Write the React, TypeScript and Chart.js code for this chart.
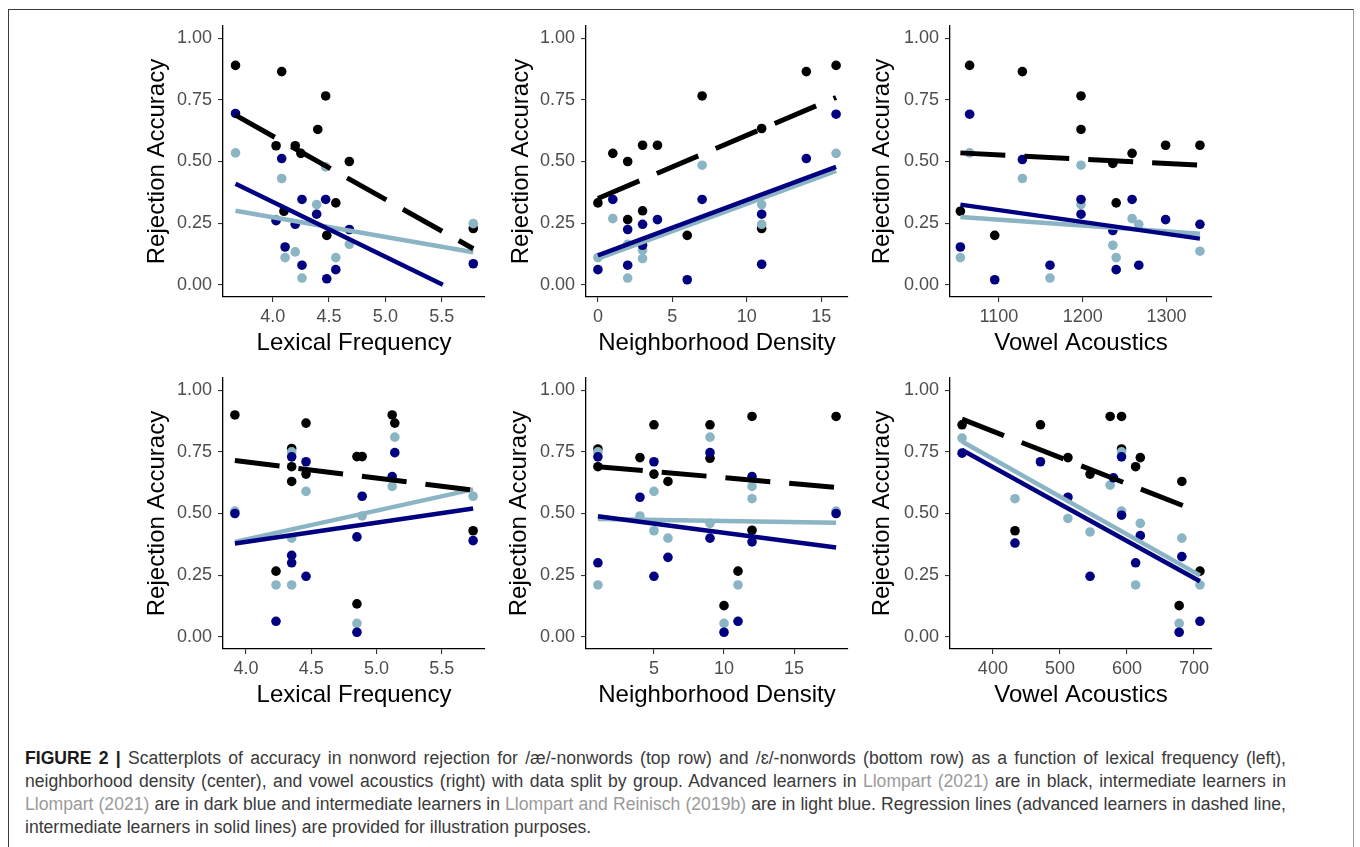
import React, { useEffect, useRef } from "react";
import { Chart, registerables } from "chart.js";

Chart.register(...registerables);

type Pt = [number, number];

// ---------- tick values & labels ----------
const yTickValues = [0, 0.25, 0.5, 0.75, 1];
const yTickLabels = ["0.00", "0.25", "0.50", "0.75", "1.00"];
const freqTickValues = [4.0, 4.5, 5.0, 5.5];
const freqTickLabels = ["4.0", "4.5", "5.0", "5.5"];
const densTopTickValues = [0, 5, 10, 15];
const densTopTickLabels = ["0", "5", "10", "15"];
const densBottomTickValues = [5, 10, 15];
const densBottomTickLabels = ["5", "10", "15"];
const vowelTopTickValues = [1100, 1200, 1300];
const vowelTopTickLabels = ["1100", "1200", "1300"];
const vowelBottomTickValues = [400, 500, 600, 700];
const vowelBottomTickLabels = ["400", "500", "600", "700"];

// ---------- /æ/ nonwords (top row) ----------
// Lexical frequency
const aeFreqAdvanced: Pt[] = [[3.67, 0.89], [4.08, 0.865], [4.47, 0.766], [4.40, 0.63], [4.03, 0.564], [4.20, 0.564], [4.25, 0.533], [4.68, 0.50], [4.56, 0.332], [4.10, 0.298], [4.48, 0.20], [5.78, 0.228]];
const aeFreqIntermediate: Pt[] = [[3.67, 0.695], [4.08, 0.512], [4.26, 0.346], [4.47, 0.346], [4.03, 0.26], [4.20, 0.245], [4.39, 0.286], [4.68, 0.224], [4.11, 0.153], [4.26, 0.079], [4.56, 0.061], [4.48, 0.024], [5.78, 0.085]];
const aeFreqIntermediate2019: Pt[] = [[3.67, 0.535], [4.08, 0.431], [4.47, 0.478], [4.39, 0.325], [4.03, 0.264], [4.20, 0.133], [4.11, 0.11], [4.26, 0.027], [4.56, 0.11], [4.68, 0.164], [5.78, 0.248]];
const aeFreqFitAdvanced: Pt[] = [[3.67, 0.688], [5.78, 0.146]];
const aeFreqFitIntermediate: Pt[] = [[3.67, 0.41], [5.51, 0.0]];
const aeFreqFitIntermediate2019: Pt[] = [[3.67, 0.30], [5.78, 0.132]];

// Neighborhood density
const aeDensAdvanced: Pt[] = [[0, 0.332], [1, 0.533], [2, 0.5], [3, 0.566], [4, 0.566], [7, 0.766], [11, 0.634], [14, 0.865], [16, 0.89], [2, 0.264], [3, 0.3], [6, 0.2], [11, 0.228]];
const aeDensIntermediate: Pt[] = [[1, 0.346], [2, 0.224], [3, 0.245], [4, 0.264], [7, 0.346], [11, 0.286], [14, 0.512], [16, 0.692], [0, 0.061], [2, 0.079], [6, 0.02], [11, 0.083], [3, 0.16]];
const aeDensIntermediate2019: Pt[] = [[1, 0.268], [0, 0.11], [2, 0.164], [2, 0.027], [3, 0.14], [3, 0.106], [7, 0.485], [11, 0.325], [11, 0.245], [16, 0.533]];
const aeDensFitAdvanced: Pt[] = [[0, 0.35], [16, 0.76]];
const aeDensFitIntermediate: Pt[] = [[0, 0.119], [16, 0.478]];
const aeDensFitIntermediate2019: Pt[] = [[0, 0.106], [16, 0.462]];

// Vowel acoustics
const aeVowelAdvanced: Pt[] = [[1054, 0.298], [1065, 0.89], [1095, 0.2], [1128, 0.865], [1198, 0.766], [1198, 0.63], [1236, 0.492], [1240, 0.332], [1259, 0.533], [1299, 0.566], [1340, 0.566]];
const aeVowelIntermediate: Pt[] = [[1054, 0.153], [1065, 0.692], [1095, 0.02], [1128, 0.508], [1161, 0.079], [1198, 0.346], [1198, 0.286], [1236, 0.22], [1240, 0.061], [1259, 0.346], [1267, 0.079], [1299, 0.264], [1340, 0.245]];
const aeVowelIntermediate2019: Pt[] = [[1054, 0.11], [1065, 0.535], [1128, 0.431], [1161, 0.027], [1198, 0.485], [1198, 0.325], [1236, 0.16], [1240, 0.11], [1259, 0.268], [1267, 0.245], [1340, 0.136]];
const aeVowelFitAdvanced: Pt[] = [[1054, 0.535], [1340, 0.485]];
const aeVowelFitIntermediate: Pt[] = [[1054, 0.325], [1340, 0.187]];
const aeVowelFitIntermediate2019: Pt[] = [[1054, 0.275], [1340, 0.207]];

// ---------- /ɛ/ nonwords (bottom row) ----------
const ehFreqAdvanced: Pt[] = [[3.915, 0.90], [4.35, 0.764], [4.35, 0.69], [4.35, 0.63], [4.46, 0.867], [4.46, 0.66], [4.23, 0.266], [4.85, 0.731], [4.89, 0.731], [4.85, 0.133], [5.12, 0.90], [5.14, 0.867], [5.74, 0.43]];
const ehFreqIntermediate: Pt[] = [[3.915, 0.50], [4.35, 0.73], [4.35, 0.33], [4.35, 0.30], [4.46, 0.71], [4.46, 0.245], [4.23, 0.0625], [4.89, 0.57], [4.85, 0.405], [4.85, 0.018], [5.12, 0.65], [5.14, 0.747], [5.74, 0.39]];
const ehFreqIntermediate2019: Pt[] = [[3.915, 0.51], [4.35, 0.75], [4.35, 0.40], [4.35, 0.21], [4.23, 0.21], [4.46, 0.59], [4.85, 0.054], [4.89, 0.49], [5.12, 0.61], [5.14, 0.81], [5.74, 0.57]];
const ehFreqFitAdvanced: Pt[] = [[3.915, 0.715], [5.74, 0.595]];
const ehFreqFitIntermediate: Pt[] = [[3.915, 0.378], [5.74, 0.52]];
const ehFreqFitIntermediate2019: Pt[] = [[3.915, 0.385], [5.74, 0.598]];

const ehDensAdvanced: Pt[] = [[1, 0.762], [1, 0.69], [4, 0.727], [5, 0.86], [5, 0.66], [6, 0.63], [9, 0.86], [9, 0.724], [10, 0.126], [11, 0.266], [12, 0.894], [12, 0.432], [18, 0.894]];
const ehDensIntermediate: Pt[] = [[1, 0.73], [1, 0.30], [4, 0.566], [5, 0.71], [5, 0.245], [6, 0.322], [9, 0.747], [9, 0.40], [10, 0.018], [11, 0.0625], [12, 0.65], [12, 0.385], [18, 0.5]];
const ehDensIntermediate2019: Pt[] = [[1, 0.75], [1, 0.21], [4, 0.49], [5, 0.59], [5, 0.43], [6, 0.40], [9, 0.81], [9, 0.46], [10, 0.054], [11, 0.21], [12, 0.61], [12, 0.56], [18, 0.51]];
const ehDensFitAdvanced: Pt[] = [[1, 0.69], [18, 0.606]];
const ehDensFitIntermediate: Pt[] = [[1, 0.489], [18, 0.362]];
const ehDensFitIntermediate2019: Pt[] = [[1, 0.478], [18, 0.462]];

const ehVowelAdvanced: Pt[] = [[354, 0.86], [433, 0.43], [471, 0.86], [512, 0.727], [545, 0.66], [575, 0.894], [592, 0.894], [592, 0.762], [613, 0.69], [620, 0.727], [678, 0.126], [682, 0.63], [709, 0.266]];
const ehVowelIntermediate: Pt[] = [[354, 0.745], [433, 0.38], [471, 0.71], [512, 0.566], [545, 0.245], [580, 0.645], [592, 0.73], [592, 0.493], [613, 0.30], [620, 0.41], [678, 0.018], [682, 0.325], [709, 0.0625]];
const ehVowelIntermediate2019: Pt[] = [[354, 0.806], [433, 0.56], [512, 0.48], [545, 0.425], [575, 0.615], [592, 0.75], [592, 0.51], [613, 0.21], [620, 0.46], [678, 0.054], [682, 0.40], [709, 0.21]];
const ehVowelFitAdvanced: Pt[] = [[354, 0.883], [709, 0.505]];
const ehVowelFitIntermediate: Pt[] = [[354, 0.758], [709, 0.225]];
const ehVowelFitIntermediate2019: Pt[] = [[354, 0.792], [709, 0.249]];

// ---------- styling ----------
const FONT = "'Liberation Sans', Arial, Helvetica, sans-serif";
const COL_ADV = "#000000";
const COL_INT = "#000080";
const COL_INT19 = "#8BB4C5";

const AXIS_W = 85;
const AXIS_H = 62;
const PAD_TOP = 20;
const PAD_RIGHT = 8;
const AREA_W = 262;
const AREA_H = 271;

type PanelCfg = {
  left: number;
  top: number;
  xMin: number;
  xMax: number;
  xTicks: number[];
  xLabels: string[];
  xTitle: string;
  yTitleOffset: number;
  adv: Pt[];
  int: Pt[];
  int19: Pt[];
  fitAdv: Pt[];
  fitInt: Pt[];
  fitInt19: Pt[];
};

const panels: PanelCfg[] = [
  { left: 223, top: 26, xMin: 3.559, xMax: 5.884, xTicks: freqTickValues, xLabels: freqTickLabels, xTitle: "Lexical Frequency", yTitleOffset: 66,
    adv: aeFreqAdvanced, int: aeFreqIntermediate, int19: aeFreqIntermediate2019, fitAdv: aeFreqFitAdvanced, fitInt: aeFreqFitIntermediate, fitInt19: aeFreqFitIntermediate2019 },
  { left: 586, top: 26, xMin: -0.8, xMax: 16.8, xTicks: densTopTickValues, xLabels: densTopTickLabels, xTitle: "Neighborhood Density", yTitleOffset: 65,
    adv: aeDensAdvanced, int: aeDensIntermediate, int19: aeDensIntermediate2019, fitAdv: aeDensFitAdvanced, fitInt: aeDensFitIntermediate, fitInt19: aeDensFitIntermediate2019 },
  { left: 950, top: 26, xMin: 1041.6, xMax: 1354.4, xTicks: vowelTopTickValues, xLabels: vowelTopTickLabels, xTitle: "Vowel Acoustics", yTitleOffset: 68,
    adv: aeVowelAdvanced, int: aeVowelIntermediate, int19: aeVowelIntermediate2019, fitAdv: aeVowelFitAdvanced, fitInt: aeVowelFitIntermediate, fitInt19: aeVowelFitIntermediate2019 },
  { left: 223, top: 378, xMin: 3.824, xMax: 5.831, xTicks: freqTickValues, xLabels: freqTickLabels, xTitle: "Lexical Frequency", yTitleOffset: 66,
    adv: ehFreqAdvanced, int: ehFreqIntermediate, int19: ehFreqIntermediate2019, fitAdv: ehFreqFitAdvanced, fitInt: ehFreqFitIntermediate, fitInt19: ehFreqFitIntermediate2019 },
  { left: 586, top: 378, xMin: 0.15, xMax: 18.85, xTicks: densBottomTickValues, xLabels: densBottomTickLabels, xTitle: "Neighborhood Density", yTitleOffset: 67,
    adv: ehDensAdvanced, int: ehDensIntermediate, int19: ehDensIntermediate2019, fitAdv: ehDensFitAdvanced, fitInt: ehDensFitIntermediate, fitInt19: ehDensFitIntermediate2019 },
  { left: 950, top: 378, xMin: 336, xMax: 727, xTicks: vowelBottomTickValues, xLabels: vowelBottomTickLabels, xTitle: "Vowel Acoustics", yTitleOffset: 68,
    adv: ehVowelAdvanced, int: ehVowelIntermediate, int19: ehVowelIntermediate2019, fitAdv: ehVowelFitAdvanced, fitInt: ehVowelFitIntermediate, fitInt19: ehVowelFitIntermediate2019 },
];

const toXY = (pts: Pt[]) => pts.map(([x, y]) => ({ x, y }));

function Panel({ cfg }: { cfg: PanelCfg }) {
  const ref = useRef<HTMLCanvasElement | null>(null);
  const cw = AXIS_W + AREA_W + PAD_RIGHT;
  const ch = PAD_TOP + AREA_H + AXIS_H;

  useEffect(() => {
    if (!ref.current) return;
    const lineDs = (pts: Pt[], color: string, dash: number[], width: number) => ({
      type: "line" as const,
      data: toXY(pts),
      borderColor: color,
      backgroundColor: color,
      borderWidth: width,
      borderDash: dash,
      borderCapStyle: "butt" as const,
      pointRadius: 0,
      showLine: true,
      fill: false,
      tension: 0,
    });
    const ptDs = (pts: Pt[], color: string) => ({
      type: "scatter" as const,
      data: toXY(pts),
      backgroundColor: color,
      borderColor: color,
      borderWidth: 0,
      pointRadius: 4.8,
      showLine: false,
    });
    const chart = new Chart(ref.current, {
      type: "scatter",
      data: {
        datasets: [
          lineDs(cfg.fitAdv, COL_ADV, [45, 19], 5),
          lineDs(cfg.fitInt, COL_INT, [], 4.5),
          lineDs(cfg.fitInt19, COL_INT19, [], 4.5),
          ptDs(cfg.int, COL_INT),
          ptDs(cfg.int19, COL_INT19),
          ptDs(cfg.adv, COL_ADV),
        ] as any,
      },
      options: {
        animation: false,
        responsive: false,
        maintainAspectRatio: false,
        devicePixelRatio: 1,
        events: [],
        layout: { padding: { top: PAD_TOP, right: PAD_RIGHT, left: 0, bottom: 0 } },
        plugins: { legend: { display: false }, tooltip: { enabled: false }, title: { display: false } },
        scales: {
          x: {
            type: "linear",
            min: cfg.xMin,
            max: cfg.xMax,
            afterBuildTicks: (s: any) => {
              s.ticks = cfg.xTicks.map((v) => ({ value: v }));
            },
            afterFit: (s: any) => {
              s.height = AXIS_H;
            },
            ticks: {
              autoSkip: false,
              maxRotation: 0,
              minRotation: 0,
              padding: 4.5,
              color: "#4D4D4D",
              font: { family: FONT, size: 18 },
              callback: (_v: any, i: number) => cfg.xLabels[i],
            },
            grid: { display: true, drawOnChartArea: false, drawTicks: true, tickLength: 5, color: "#333333", lineWidth: 1.1 },
            border: { display: true, color: "#000000", width: 1.3 },
            title: { display: true, text: cfg.xTitle, color: "#000000", font: { family: FONT, size: 24 }, padding: { top: 0, bottom: 1.5 } },
          },
          y: {
            type: "linear",
            min: -0.05,
            max: 1.05,
            afterBuildTicks: (s: any) => {
              s.ticks = yTickValues.map((v) => ({ value: v }));
            },
            afterFit: (s: any) => {
              s.width = AXIS_W;
            },
            ticks: {
              autoSkip: false,
              padding: 6,
              color: "#4D4D4D",
              font: { family: FONT, size: 18 },
              callback: (_v: any, i: number) => yTickLabels[i],
            },
            grid: { display: true, drawOnChartArea: false, drawTicks: true, tickLength: 5, color: "#333333", lineWidth: 1.1 },
            border: { display: true, color: "#000000", width: 1.3 },
            title: {
              display: true,
              text: "Rejection Accuracy",
              color: "#000000",
              font: { family: FONT, size: 24 },
              padding: { top: AXIS_W - cfg.yTitleOffset - 14.4, bottom: 0 },
            },
          },
        },
      } as any,
    });
    return () => chart.destroy();
  }, [cfg]);

  return (
    <canvas
      ref={ref}
      width={cw}
      height={ch}
      style={{ position: "absolute", left: cfg.left - AXIS_W, top: cfg.top - PAD_TOP, width: cw, height: ch }}
    />
  );
}

const linkStyle: React.CSSProperties = { color: "#9A9A9A" };
const CAPTION_LEFT = 25;
const CAPTION_RIGHT = 1286;

export default function App() {
  const lineStyle = (top: number, justify: boolean): React.CSSProperties => ({
    position: "absolute",
    left: CAPTION_LEFT,
    top,
    width: justify ? CAPTION_RIGHT - CAPTION_LEFT : undefined,
    whiteSpace: "nowrap",
    textAlign: justify ? "justify" : "left",
    textAlignLast: justify ? "justify" : "left",
    fontFamily: FONT,
    fontSize: 17.6,
    lineHeight: "23px",
    color: "#3a3a3a",
  });
  return (
    <div style={{ position: "absolute", left: 0, top: 0, width: 1360, height: 847, overflow: "hidden", background: "#ffffff" }}>
      <div
        style={{
          position: "absolute",
          left: 8,
          top: 9,
          width: 1346,
          height: 838,
          boxSizing: "border-box",
          borderLeft: "1px solid #3a3a3a",
          borderTop: "1px solid #3a3a3a",
          borderRight: "1px solid #9a9a9a",
        }}
      />
      {panels.map((p, i) => (
        <Panel key={i} cfg={p} />
      ))}
      <div style={lineStyle(747, true)}>
        <b style={{ color: "#1a1a1a" }}>FIGURE 2 |</b> Scatterplots of accuracy in nonword rejection for /æ/-nonwords (top row) and /ɛ/-nonwords (bottom row) as a function of lexical frequency (left),
      </div>
      <div style={lineStyle(770, true)}>
        neighborhood density (center), and vowel acoustics (right) with data split by group. Advanced learners in <span style={linkStyle}>Llompart (2021)</span> are in black, intermediate learners in
      </div>
      <div style={lineStyle(793, true)}>
        <span style={linkStyle}>Llompart (2021)</span> are in dark blue and intermediate learners in <span style={linkStyle}>Llompart and Reinisch (2019b)</span> are in light blue. Regression lines (advanced learners in dashed line,
      </div>
      <div style={lineStyle(816, false)}>
        intermediate learners in solid lines) are provided for illustration purposes.
      </div>
    </div>
  );
}
